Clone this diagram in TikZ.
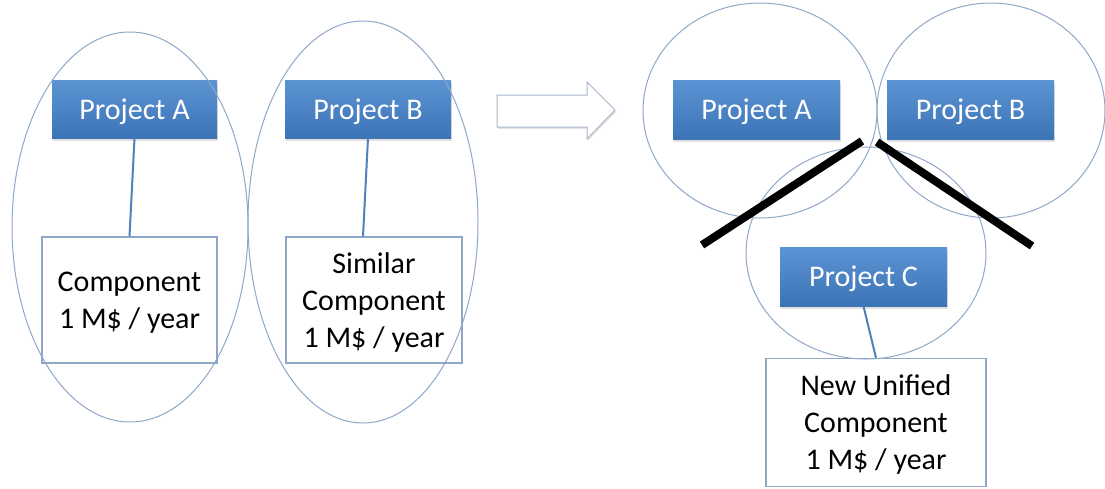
\documentclass[tikz,border=0pt]{standalone}
\usepackage{fontspec}
\setmainfont{Carlito}
\usetikzlibrary{calc,shadows}
\definecolor{projtop}{HTML}{5B93D3}
\definecolor{projbot}{HTML}{3D74B6}
\definecolor{ringcol}{HTML}{8FA8C8}
\definecolor{linkcol}{HTML}{4F81BD}
\definecolor{compedge}{HTML}{8EA7C6}
\definecolor{arrowedge}{HTML}{A8B6CA}
\tikzset{
  project/.style={rectangle, inner sep=0pt, top color=projtop, bottom color=projbot,
    draw=none, text=white, font=\fontsize{30}{37}\selectfont, text depth=0pt,
    drop shadow={opacity=0.25, shadow xshift=1pt, shadow yshift=-2.5pt}},
  compbox/.style={rectangle, inner sep=0pt, fill=white, draw=compedge, line width=1.2pt,
    align=center, font=\fontsize{30}{37}\selectfont, text depth=0pt},
  ring/.style={draw=ringcol, line width=1pt},
  link/.style={draw=linkcol, line width=2pt},
  bar/.style={draw=black, line width=8pt},
  bigarrow/.style={fill=white, draw=arrowedge, line width=1pt,
    drop shadow={opacity=0.2, shadow xshift=1pt, shadow yshift=-2pt}}
}
\begin{document}
\begin{tikzpicture}[x=1pt,y=-1pt]
\useasboundingbox[fill=white] (0,0) rectangle (1105,488);

% before: two projects, each with its own component
\node[project, minimum width=165pt, minimum height=58pt] (pa) at (134.5,109) {Project A};
\node[project, minimum width=166pt, minimum height=58pt] (pb) at (368,109) {Project B};
\node[compbox, minimum width=175pt, minimum height=126pt] (ca) at (129.5,300) {Component\\1 M\$ / year};
\node[compbox, minimum width=176pt, minimum height=126pt] (cb) at (374,300) {Similar\\Component\\1 M\$ / year};
\draw[link] (pa.south) -- (ca.north);
\draw[link] (pb.south) -- ($(cb.north)+(-11,0)$);
\draw[ring] (130,227) ellipse [x radius=118pt, y radius=195pt];
\draw[ring] (363,222) ellipse [x radius=115pt, y radius=201pt];

% transition arrow
\path[bigarrow] (497,95) -- (587,95) -- (587,82) -- (615,110) -- (587,139) -- (587,127) -- (497,127) -- cycle;

% after: three projects sharing one unified component
\node[project, minimum width=167pt, minimum height=59pt] (qa) at (756.5,109.5) {Project A};
\node[project, minimum width=167pt, minimum height=59pt] (qb) at (970.5,109.5) {Project B};
\node[project, minimum width=167pt, minimum height=59pt] (qc) at (863.5,276.5) {Project C};
\node[compbox, minimum width=220pt, minimum height=128pt] (nu) at (876,422.5) {New Unified\\Component\\1 M\$ / year};
\draw[link] (qc.south) -- (nu.north);
\draw[ring] (760,110.5) ellipse [x radius=117pt, y radius=107.5pt];
\draw[ring] (991,110.5) ellipse [x radius=114pt, y radius=107.5pt];
\draw[ring] (866,253) ellipse [x radius=120pt, y radius=106pt];

\coordinate (l1) at (862,141);
\coordinate (l2) at (702,245);
\coordinate (r1) at (877,142);
\coordinate (r2) at (1032,246);
\draw[bar] (l1) -- (l2);
\draw[bar] (r1) -- (r2);
\end{tikzpicture}
\end{document}
